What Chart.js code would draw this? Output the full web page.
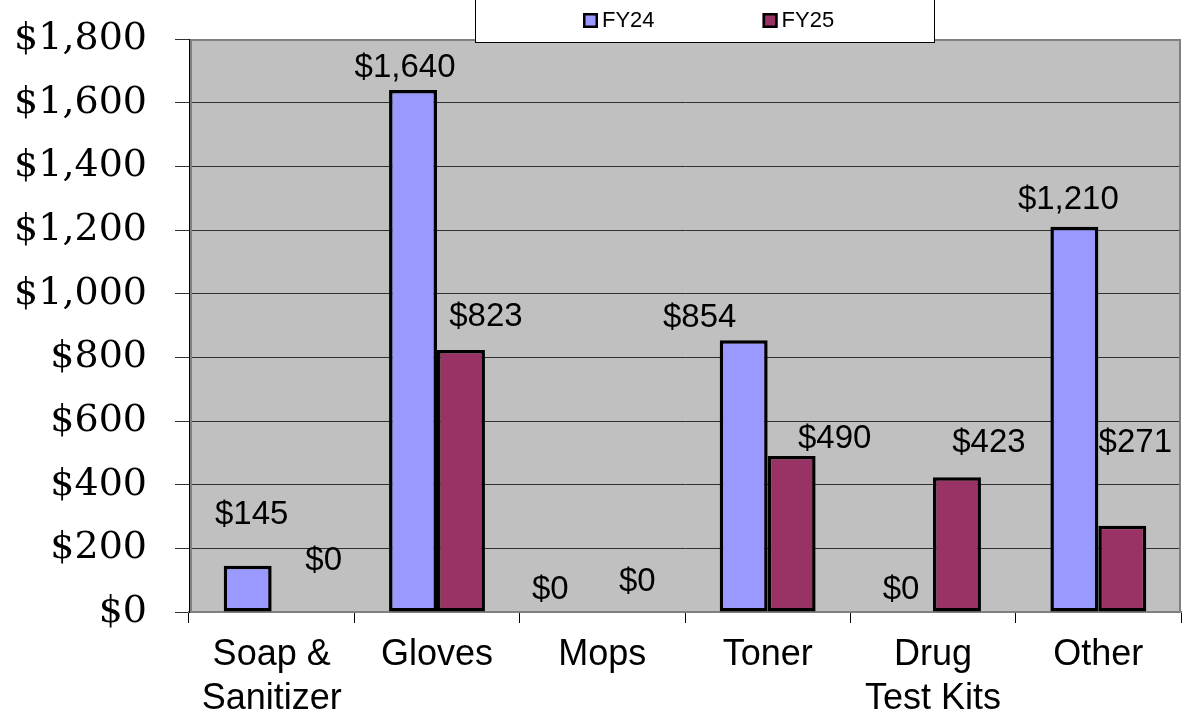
<!DOCTYPE html>
<html><head><meta charset="utf-8">
<script src="https://cdn.jsdelivr.net/npm/chart.js@4.4.1/dist/chart.umd.min.js"></script>
<style>html,body{margin:0;padding:0;background:#fff;}#wrap{width:1183px;height:719px;position:relative;}</style>
</head><body><div id="wrap"><canvas id="c"></canvas></div>
<script>
// ---- data ----
const categories = [['Soap &', 'Sanitizer'], 'Gloves', 'Mops', 'Toner', ['Drug', 'Test Kits'], 'Other'];
const seriesNames = ['FY24', 'FY25'];
const fy24 = [145, 1640, 0, 854, 0, 1210];
const fy25 = [0, 823, 0, 490, 423, 271];
const yMin = 0, yMax = 1800, yStep = 200;

const money = v => '$' + Number(v).toLocaleString('en-US');

const plotFrame = {
  id: 'plotFrame',
  beforeDraw(chart) {
    const {ctx, chartArea: a} = chart;
    ctx.save();
    ctx.fillStyle = '#C0C0C0';
    ctx.fillRect(a.left, a.top, a.right - a.left, a.bottom - a.top);
    ctx.restore();
  },
  beforeDatasetsDraw(chart) {
    const {ctx, chartArea: a} = chart;
    ctx.save();
    ctx.strokeStyle = '#808080';
    ctx.lineWidth = 2;
    ctx.beginPath();
    ctx.moveTo(a.left + 2, a.bottom);
    ctx.lineTo(a.left + 2, a.top + 1);
    ctx.lineTo(a.right - 1, a.top + 1);
    ctx.lineTo(a.right - 1, a.bottom);
    ctx.stroke();
    ctx.restore();
  }
};

const barLabels = {
  id: 'barLabels',
  afterDatasetsDraw(chart, args, opts) {
    const ctx = chart.ctx;
    ctx.save();
    ctx.font = opts.font;
    ctx.fillStyle = '#000';
    ctx.textAlign = 'center';
    ctx.textBaseline = 'middle';
    chart.data.datasets.forEach((ds, di) => {
      const meta = chart.getDatasetMeta(di);
      meta.data.forEach((bar, i) => {
        const off = opts.offsets[di][i];
        ctx.fillText(money(ds.data[i]), bar.x + off[0], bar.y - off[1]);
      });
    });
    ctx.restore();
  }
};

const boxLegend = {
  id: 'boxLegend',
  afterDraw(chart, args, o) {
    const ctx = chart.ctx;
    ctx.save();
    ctx.fillStyle = '#fff';
    ctx.fillRect(o.left, o.top, o.right - o.left, o.bottom - o.top);
    ctx.strokeStyle = '#000';
    ctx.lineWidth = 1;
    ctx.strokeRect(o.left + 0.5, o.top + 0.5, o.right - o.left - 1, o.bottom - o.top - 1);
    ctx.font = o.font;
    ctx.textBaseline = 'middle';
    ctx.textAlign = 'left';
    let x = o.left + o.padLeft;
    chart.data.datasets.forEach(ds => {
      ctx.fillStyle = ds.backgroundColor;
      ctx.fillRect(x, o.markerTop, o.marker, o.marker);
      ctx.strokeStyle = '#000';
      ctx.lineWidth = 2.5;
      ctx.strokeRect(x + 1.25, o.markerTop + 1.25, o.marker - 2.5, o.marker - 2.5);
      ctx.fillStyle = '#000';
      ctx.fillText(ds.label, x + o.marker + o.gap, o.textY);
      x += o.marker + o.gap + ctx.measureText(ds.label).width + o.itemGap;
    });
    ctx.restore();
  }
};

new Chart(document.getElementById('c'), {
  type: 'bar',
  data: {
    labels: categories,
    datasets: [
      {label: seriesNames[0], data: fy24, backgroundColor: '#9999FF', borderColor: '#000', borderWidth: 3.5, borderSkipped: false, categoryPercentage: 0.58, barPercentage: 1.0},
      {label: seriesNames[1], data: fy25, backgroundColor: '#993366', borderColor: '#000', borderWidth: 3.5, borderSkipped: false, categoryPercentage: 0.58, barPercentage: 1.0}
    ]
  },
  options: {
    responsive: true,
    maintainAspectRatio: false,
    animation: false,
    layout: {padding: {top: 39, right: 2, left: 0, bottom: 0}},
    plugins: {
      legend: {display: false},
      tooltip: {enabled: false},
      barLabels: {
        font: '33px "Liberation Sans", Arial, sans-serif',
        offsets: [
          [[4, 51], [-8, 22], [-28, 22], [-44, 22], [-8, 22], [-6, 27]],
          [[28, 51], [25, 33], [11, 30], [43, 17], [32, 34], [13, 83]]
        ]
      },
      boxLegend: {
        left: 475, right: 935, top: -2, bottom: 43,
        padLeft: 108, itemGap: 108, marker: 15, markerTop: 13, gap: 4, textY: 21,
        font: '22px "Liberation Sans", Arial, sans-serif'
      }
    },
    scales: {
      x: {
        offset: true,
        grid: {display: true, drawOnChartArea: false, drawTicks: true, tickLength: 11, color: '#000', offset: true},
        border: {display: true, color: '#808080', width: 2},
        ticks: {
          color: '#000', padding: 10, maxRotation: 0, autoSkip: false,
          font: {family: '"Liberation Sans", Arial, sans-serif', size: 36, lineHeight: '44px'}
        },
        afterFit: s => { s.height = 107; }
      },
      y: {
        min: yMin, max: yMax,
        grid: {color: '#303030', lineWidth: 1, drawTicks: true, tickLength: 14},
        border: {display: true, color: '#000', width: 1},
        ticks: {
          stepSize: yStep, color: '#000', padding: 28,
          font: {family: '"DejaVu Serif", serif', size: 38},
          callback: v => money(v)
        },
        afterFit: s => { s.width = 189; s.paddingTop = 0; s.paddingBottom = 0; }
      }
    }
  },
  plugins: [plotFrame, barLabels, boxLegend]
});
</script>
</body></html>
